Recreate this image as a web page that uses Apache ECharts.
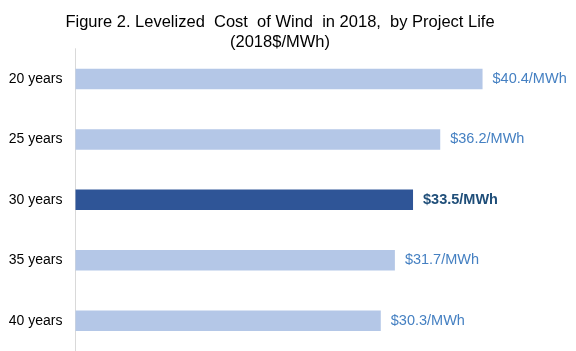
<!DOCTYPE html>
<html>
<head>
<meta charset="utf-8">
<script src="https://cdn.jsdelivr.net/npm/echarts@6/dist/echarts.min.js"></script>
<style>
  html, body { margin: 0; padding: 0; background: #fff; }
  #main { width: 576px; height: 351px; }
</style>
</head>
<body>
<div id="main"></div>
<script>
var dom = document.getElementById('main');
var myChart = echarts.init(dom);

// data
var years = ['20 years', '25 years', '30 years', '35 years', '40 years'];
var costs = [40.4, 36.2, 33.5, 31.7, 30.3];
var baseCase = '30 years'; // highlighted bar

var lightBlue = '#b4c7e7',
    darkBlue = '#2f5597';

// build bar items, highlighted one is dark + bold label
var barData = [];
for (var i = 0; i < years.length; i++) {
    var hi = years[i] === baseCase;
    barData.push({
        value: costs[i],
        itemStyle: { color: hi ? darkBlue : lightBlue },
        label: hi ? { fontWeight: 'bold', color: '#1f4e79' } : {}
    });
}

var option = {
    backgroundColor: '#fff',
    animation: false,
    title: {
        text: 'Figure 2. Levelized  Cost  of Wind  in 2018,  by Project Life\n(2018$/MWh)',
        left: 275,
        textAlign: 'center',
        top: 7,
        textStyle: {
            fontFamily: 'Liberation Sans',
            fontWeight: 'normal',
            fontSize: 16.5,
            lineHeight: 20,
            color: '#000'
        }
    },
    grid: {
        left: 75.5,
        top: 48.7,
        width: 453.4,
        height: 303.5,
        containLabel: false
    },
    xAxis: {
        type: 'value',
        min: 0,
        max: 45,
        show: false
    },
    yAxis: {
        type: 'category',
        inverse: true,
        data: years,
        axisLine: { show: true, lineStyle: { color: '#d9d9d9', width: 1 } },
        axisTick: { show: false },
        axisLabel: {
            margin: 13,
            fontFamily: 'Liberation Sans',
            fontSize: 14,
            color: '#000'
        },
        splitLine: { show: false }
    },
    series: [
        {
            type: 'bar',
            barWidth: 20.5,
            data: barData,
            label: {
                show: true,
                position: 'right',
                distance: 10,
                fontFamily: 'Liberation Sans',
                fontSize: 14.5,
                color: '#4580c2',
                formatter: function (p) {
                    return '$' + p.value.toFixed(1) + '/MWh';
                }
            }
        }
    ]
};

myChart.setOption(option);
</script>
</body>
</html>
